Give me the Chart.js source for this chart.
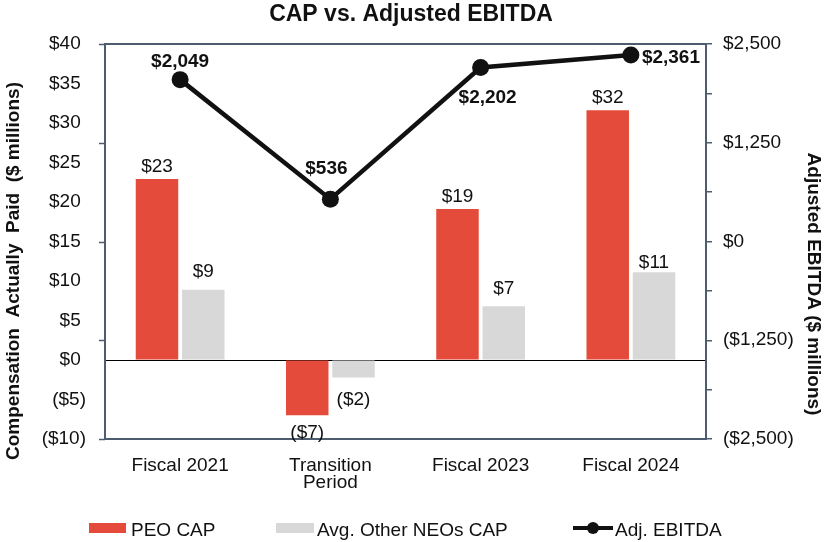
<!DOCTYPE html>
<html><head><meta charset="utf-8">
<script src="https://cdn.jsdelivr.net/npm/chart.js@4.4.1/dist/chart.umd.min.js"></script>
<style>html,body{margin:0;padding:0;background:#fff}#wrap{width:826px;height:542px;position:relative}</style>
</head><body><div id="wrap"><canvas id="c"></canvas></div>
<script>
// ---- data ----
const categories = ['Fiscal 2021', ['Transition', 'Period'], 'Fiscal 2023', 'Fiscal 2024'];
const peoCap = [22.9, -7.0, 19.1, 31.6];
const peoCapLabels = ['$23', '($7)', '$19', '$32'];
const neoCap = [8.9, -2.2, 6.8, 11.1];
const neoCapLabels = ['$9', '($2)', '$7', '$11'];
const ebitda = [2049, 536, 2202, 2361];
const ebitdaLabels = ['$2,049', '$536', '$2,202', '$2,361'];
const leftAxis = { min: -10, max: 40, step: 5 };
const rightAxis = { min: -2500, max: 2500, step: 625, labelEvery: 1250 };
const seriesNames = ['PEO CAP', 'Avg. Other NEOs CAP', 'Adj. EBITDA'];
const chartTitle = 'CAP vs. Adjusted EBITDA';
const leftTitle = 'Compensation  Actually  Paid  ($ millions)';
const rightTitle = 'Adjusted EBITDA ($ millions)';

// ---- styles ----
const FONT = "'Liberation Sans', Arial, Helvetica, sans-serif";
const RED = '#E54B3A', GRAY = '#D8D8D8', LINE = '#111111', SLATE = '#4E5C70', TXT = '#111111';
const redGap = { pos: [7, 0, 7, 7], neg: [23, 23, 23, 23] };
const grayGap = { pos: [13, 0, 12, 4], neg: [28, 28, 28, 28] };
const lineLabelPlacement = [
  { dx: 0, dy: -13, align: 'center' },
  { dx: -4, dy: -25, align: 'center' },
  { dx: 7, dy: 35, align: 'center' },
  { dx: 11, dy: 8, align: 'left' }
];

function fmtLeft(v) { return v < 0 ? '($' + (-v) + ')' : '$' + v + ' '; }
function fmtRight(v) {
  const a = Math.abs(v).toLocaleString('en-US');
  return v < 0 ? '($' + a + ')' : '$' + a;
}

const drawPlugin = {
  id: 'customDraw',
  afterDatasetsDraw(chart) {
    const ctx = chart.ctx;
    ctx.save();
    ctx.fillStyle = TXT;
    ctx.textBaseline = 'alphabetic';
    ctx.font = '19px ' + FONT;
    ctx.textAlign = 'center';
    [[0, peoCapLabels, redGap], [1, neoCapLabels, grayGap]].forEach(([di, labels, gap]) => {
      const meta = chart.getDatasetMeta(di);
      const data = chart.data.datasets[di].data;
      meta.data.forEach((el, j) => {
        const p = el.getProps(['x', 'y'], true);
        const y = data[j] >= 0 ? p.y - gap.pos[j] : p.y + gap.neg[j];
        ctx.fillText(labels[j], p.x, y);
      });
    });
    ctx.font = 'bold 19px ' + FONT;
    const lm = chart.getDatasetMeta(2);
    lm.data.forEach((el, j) => {
      const p = el.getProps(['x', 'y'], true);
      const pl = lineLabelPlacement[j];
      ctx.textAlign = pl.align;
      ctx.fillText(ebitdaLabels[j], p.x + pl.dx, p.y + pl.dy);
    });
    ctx.restore();
  },
  afterDraw(chart) {
    const ctx = chart.ctx;
    const ca = chart.chartArea;
    const y1 = chart.scales.y1;
    ctx.save();
    ctx.strokeStyle = SLATE; ctx.lineWidth = 2;
    ctx.beginPath(); ctx.moveTo(ca.left - 1, ca.top); ctx.lineTo(ca.right + 1, ca.top); ctx.stroke();
    ctx.lineWidth = 1.5;
    for (let v = rightAxis.min; v <= rightAxis.max; v += rightAxis.labelEvery) {
      const y = Math.round(y1.getPixelForValue(v)) + 0.5;
      ctx.beginPath(); ctx.moveTo(ca.left - 6, y); ctx.lineTo(ca.left, y); ctx.stroke();
    }
    ctx.fillStyle = TXT;
    ctx.font = 'bold 23px ' + FONT;
    ctx.textAlign = 'center'; ctx.textBaseline = 'middle';
    ctx.fillText(chartTitle, 411, 15);
    ctx.font = 'bold 19px ' + FONT;
    ctx.save(); ctx.translate(14, 271); ctx.rotate(-Math.PI / 2); ctx.fillText(leftTitle, 0, 0); ctx.restore();
    ctx.save(); ctx.translate(813, 284); ctx.rotate(Math.PI / 2); ctx.fillText(rightTitle, 0, 0); ctx.restore();
    const ly = 528;
    ctx.textAlign = 'left'; ctx.textBaseline = 'alphabetic';
    ctx.font = '19px ' + FONT;
    const ds = chart.data.datasets;
    ctx.fillStyle = ds[0].backgroundColor; ctx.fillRect(89, ly - 5, 37, 10);
    ctx.fillStyle = TXT; ctx.fillText(seriesNames[0], 131, ly + 8);
    ctx.fillStyle = ds[1].backgroundColor; ctx.fillRect(276, ly - 5, 38, 10);
    ctx.fillStyle = TXT; ctx.fillText(seriesNames[1], 317, ly + 8);
    ctx.strokeStyle = ds[2].borderColor; ctx.lineWidth = 4;
    ctx.beginPath(); ctx.moveTo(573, ly); ctx.lineTo(613, ly); ctx.stroke();
    ctx.fillStyle = ds[2].borderColor;
    ctx.beginPath(); ctx.arc(593, ly, 6, 0, Math.PI * 2); ctx.fill();
    ctx.fillStyle = TXT; ctx.fillText(seriesNames[2], 615, ly + 8);
    ctx.restore();
  }
};

new Chart(document.getElementById('c'), {
  data: {
    labels: categories,
    datasets: [
      { type: 'bar', label: seriesNames[0], data: peoCap, backgroundColor: RED, yAxisID: 'y', order: 1,
        categoryPercentage: 0.616, barPercentage: 0.918 },
      { type: 'bar', label: seriesNames[1], data: neoCap, backgroundColor: GRAY, yAxisID: 'y', order: 2,
        categoryPercentage: 0.616, barPercentage: 0.918 },
      { type: 'line', label: seriesNames[2], data: ebitda, yAxisID: 'y1', order: 0,
        borderColor: LINE, backgroundColor: LINE, borderWidth: 4.5, pointRadius: 8.5, pointHoverRadius: 8.5,
        pointBackgroundColor: LINE, pointBorderWidth: 0, tension: 0, clip: false }
    ]
  },
  options: {
    responsive: true, maintainAspectRatio: false, animation: false,
    layout: { padding: { top: 44, left: 0, right: 0, bottom: 0 } },
    plugins: { legend: { display: false }, title: { display: false }, tooltip: { enabled: false } },
    scales: {
      x: {
        grid: { display: false },
        border: { display: true, color: SLATE, width: 2 },
        ticks: { color: TXT, font: { family: FONT, size: 19, lineHeight: 0.9 }, padding: 10, maxRotation: 0, autoSkip: false },
        afterFit(s) { s.height = 103; }
      },
      y: {
        position: 'left', min: leftAxis.min, max: leftAxis.max,
        grid: { drawTicks: false, color: c => (c.tick && c.tick.value === 0 ? '#000' : 'rgba(0,0,0,0)'), lineWidth: 1 },
        border: { display: true, color: SLATE, width: 2 },
        ticks: { stepSize: leftAxis.step, color: TXT, font: { family: FONT, size: 19 }, padding: 19, callback: v => fmtLeft(v) },
        afterFit(s) { s.width = 105; }
      },
      y1: {
        position: 'right', min: rightAxis.min, max: rightAxis.max,
        grid: { drawOnChartArea: false, drawTicks: true, tickLength: 6, color: SLATE, lineWidth: 1.5 },
        border: { display: true, color: SLATE, width: 2 },
        ticks: { stepSize: rightAxis.step, color: TXT, font: { family: FONT, size: 19 }, padding: 11,
          callback: v => (v % rightAxis.labelEvery === 0 ? fmtRight(v) : '') },
        afterFit(s) { s.width = 120; }
      }
    }
  },
  plugins: [drawPlugin]
});
</script></body></html>
